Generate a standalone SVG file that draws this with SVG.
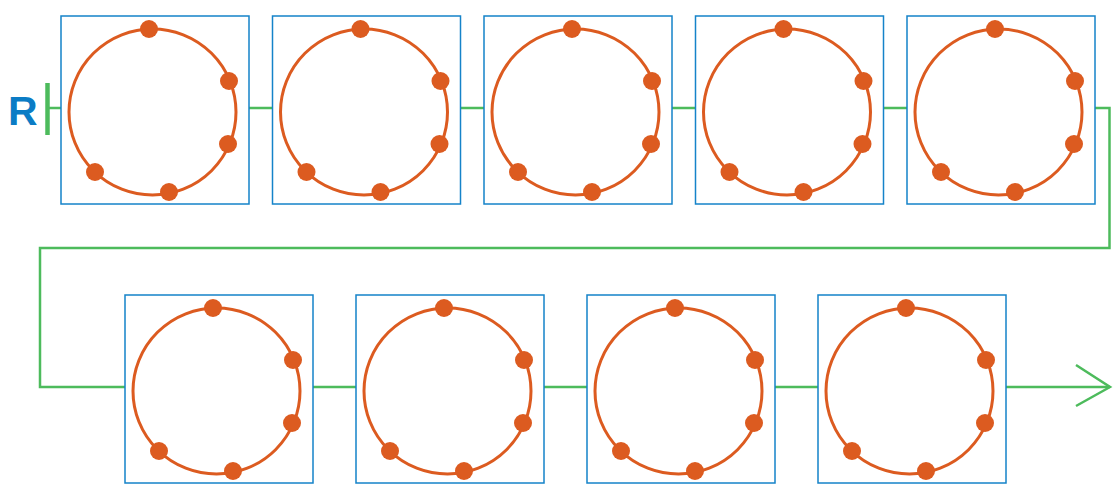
<svg xmlns="http://www.w3.org/2000/svg" xmlns:xlink="http://www.w3.org/1999/xlink" width="1116" height="491" viewBox="0 0 1116 491">
<style>
.box{fill:#fff;stroke:#1583c9;stroke-width:1.5}
.ring{fill:none;stroke:#dc5b20;stroke-width:3}
.dot{fill:#dc5b20}
.wire{fill:none;stroke:#4dbb5c;stroke-width:2.5}
.lbl{font-family:"Liberation Sans",Arial,sans-serif;font-weight:bold;font-size:41px;fill:#0b7cc5}
</style>
<defs>
<g id="ringnode">
<rect class="box" x="0" y="0" width="188" height="188"/>
<ellipse class="ring" cx="91.5" cy="96" rx="83.5" ry="83"/>
<circle class="dot" cx="88" cy="13" r="9"/>
<circle class="dot" cx="168" cy="65" r="9"/>
<circle class="dot" cx="167" cy="128" r="9"/>
<circle class="dot" cx="34" cy="156" r="9"/>
<circle class="dot" cx="108" cy="176" r="9"/>
</g>
</defs>
<g id="connectors">
<path class="wire" d="M48 108 H61 M249 108 H273 M460 108 H484 M672 108 H696 M883 108 H907"/>
<path class="wire" d="M1094 108 H1109.5 V248 H40 V387 H125"/>
<path class="wire" d="M313 387 H356 M544 387 H587 M775 387 H818 M1006 387 H1110"/>
<path class="wire" d="M1076 365 L1110 387 L1076 406"/>
<line x1="47.5" y1="83" x2="47.5" y2="135" stroke="#4dbb5c" stroke-width="4.5"/>
</g>
<g id="label-R"><text class="lbl" x="8" y="125">R</text></g>
<g id="node1"><use xlink:href="#ringnode" x="61" y="16"/></g>
<g id="node2"><use xlink:href="#ringnode" x="272.5" y="16"/></g>
<g id="node3"><use xlink:href="#ringnode" x="484" y="16"/></g>
<g id="node4"><use xlink:href="#ringnode" x="695.5" y="16"/></g>
<g id="node5"><use xlink:href="#ringnode" x="907" y="16"/></g>
<g id="node6"><use xlink:href="#ringnode" x="125" y="295"/></g>
<g id="node7"><use xlink:href="#ringnode" x="356" y="295"/></g>
<g id="node8"><use xlink:href="#ringnode" x="587" y="295"/></g>
<g id="node9"><use xlink:href="#ringnode" x="818" y="295"/></g>
</svg>
